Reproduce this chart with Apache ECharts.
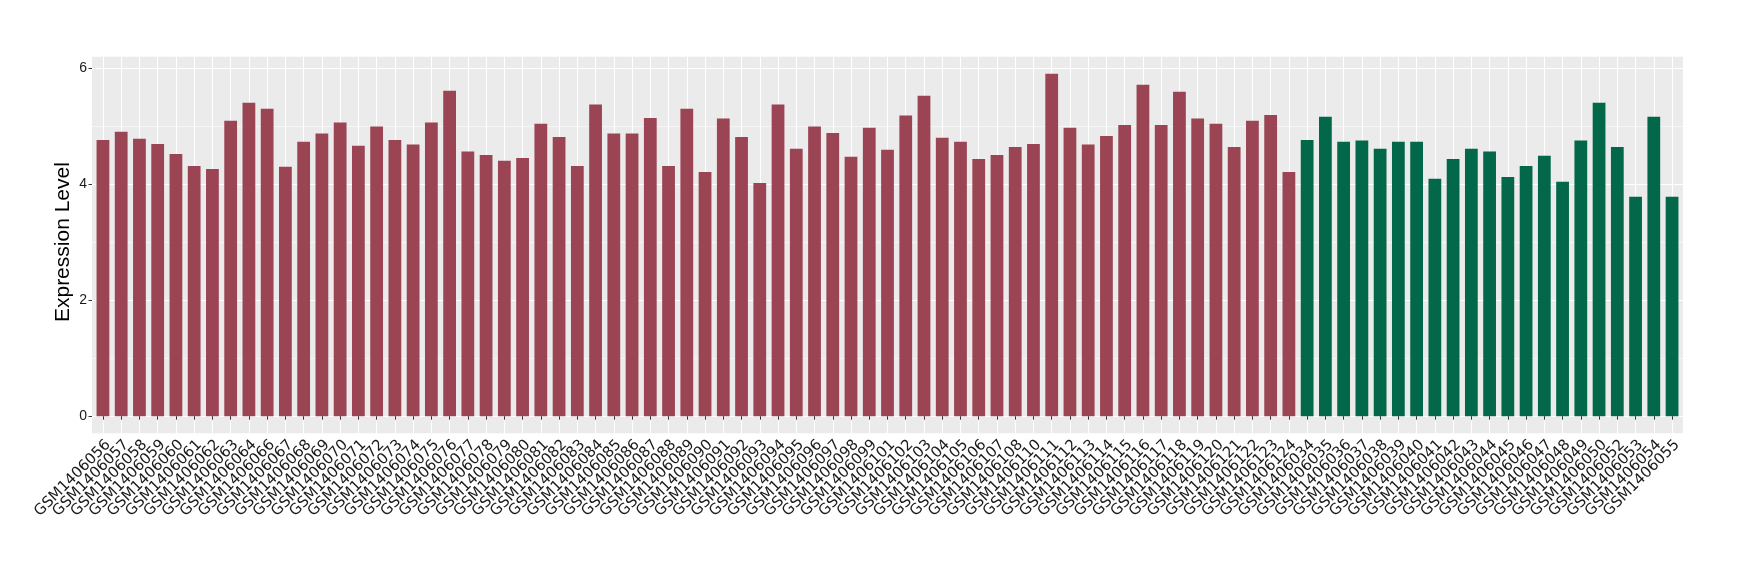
<!DOCTYPE html>
<html>
<head>
<meta charset="utf-8">
<script src="https://cdn.jsdelivr.net/npm/echarts@6/dist/echarts.min.js"></script>
<style>
html,body{margin:0;padding:0;background:#ffffff;}
#chart{width:1740px;height:580px;}
</style>
</head>
<body>
<div id="chart"></div>
<script>
// ---- data ----
const groupASamples = [
  "GSM1406056","GSM1406057","GSM1406058","GSM1406059","GSM1406060","GSM1406061","GSM1406062","GSM1406063","GSM1406064",
  "GSM1406066","GSM1406067","GSM1406068","GSM1406069","GSM1406070","GSM1406071","GSM1406072","GSM1406073","GSM1406074",
  "GSM1406075","GSM1406076","GSM1406077","GSM1406078","GSM1406079","GSM1406080","GSM1406081","GSM1406082","GSM1406083",
  "GSM1406084","GSM1406085","GSM1406086","GSM1406087","GSM1406088","GSM1406089","GSM1406090","GSM1406091","GSM1406092",
  "GSM1406093","GSM1406094","GSM1406095","GSM1406096","GSM1406097","GSM1406098","GSM1406099",
  "GSM1406101","GSM1406102","GSM1406103","GSM1406104","GSM1406105","GSM1406106","GSM1406107","GSM1406108",
  "GSM1406110","GSM1406111","GSM1406112","GSM1406113","GSM1406114","GSM1406115","GSM1406116","GSM1406117","GSM1406118",
  "GSM1406119","GSM1406120","GSM1406121","GSM1406122","GSM1406123","GSM1406124"
];
const groupAValues = [
  4.76,4.90,4.78,4.69,4.52,4.31,4.26,5.09,5.40,
  5.30,4.30,4.73,4.87,5.06,4.66,4.99,4.76,4.68,
  5.06,5.61,4.56,4.50,4.40,4.45,5.04,4.81,4.31,
  5.37,4.87,4.87,5.14,4.31,5.30,4.21,5.13,4.81,
  4.02,5.37,4.61,4.99,4.88,4.47,4.97,
  4.59,5.18,5.52,4.80,4.73,4.43,4.50,4.64,
  4.69,5.90,4.97,4.68,4.83,5.02,5.71,5.02,5.59,
  5.13,5.04,4.64,5.09,5.19,4.21
];
const groupBSamples = [
  "GSM1406034","GSM1406035","GSM1406036","GSM1406037","GSM1406038","GSM1406039","GSM1406040","GSM1406041",
  "GSM1406042","GSM1406043","GSM1406044","GSM1406045","GSM1406046","GSM1406047","GSM1406048","GSM1406049",
  "GSM1406050","GSM1406052","GSM1406053","GSM1406054","GSM1406055"
];
const groupBValues = [
  4.76,5.16,4.73,4.75,4.61,4.73,4.73,4.09,
  4.43,4.61,4.56,4.12,4.31,4.49,4.04,4.75,
  5.40,4.64,3.78,5.16,3.78
];
const yTickMin = 0;
const yTickMax = 6;
const yTickStep = 2;
const yAxisTitle = "Expression Level";

// ---- layout ----
const W = 1740, H = 580;
const panel = {left: 92, right: 57, top: 56.7, bottom: 146.7};
const categories = groupASamples.concat(groupBSamples);
const n = categories.length;
const nA = groupASamples.length;
const dataMax = Math.max(...groupAValues, ...groupBValues);
const pad = dataMax * 0.05;                 // ggplot-style 5% expansion
const panelW = W - panel.left - panel.right;
const panelH = H - panel.top - panel.bottom;
const unit = panelW / (n - 1 + 1.2);        // discrete expansion of 0.6 each side
const pxPerY = panelH / (dataMax + 2 * pad);

const gridBars = {
  left: panel.left + 0.6 * unit, right: panel.right + 0.6 * unit,
  top: panel.top, bottom: panel.bottom
};
const gridTicks = {
  left: panel.left, right: panel.right,
  top: panel.top + (dataMax + pad - yTickMax) * pxPerY,
  bottom: panel.bottom + (pad + yTickMin) * pxPerY
};

const seriesA = categories.map((c, i) => i < nA ? groupAValues[i] : '-');
const seriesB = categories.map((c, i) => i >= nA ? groupBValues[i - nA] : '-');

const chart = echarts.init(document.getElementById('chart'), null, {renderer: 'canvas'});
chart.setOption({
  animation: false,
  backgroundColor: '#ffffff',
  grid: [
    Object.assign({show: true, backgroundColor: '#EBEBEB', borderWidth: 0}, panel),
    Object.assign({show: false}, gridBars),
    Object.assign({show: false}, gridTicks)
  ],
  xAxis: [
    {gridIndex: 0, type: 'value', show: false},
    {
      gridIndex: 1, type: 'category', data: categories, boundaryGap: false,
      axisLine: {show: false},
      axisTick: {show: true, interval: 0, length: 3.5, lineStyle: {color: '#333333', width: 1}},
      axisLabel: {
        interval: 0, rotate: 45, margin: 4, verticalAlign: 'top',
        fontFamily: 'DejaVu Sans', fontSize: 15, color: '#1a1a1a'
      },
      splitLine: {show: true, interval: 0, lineStyle: {color: '#ffffff', width: 1.1}}
    },
    {gridIndex: 2, type: 'value', show: false}
  ],
  yAxis: [
    {gridIndex: 0, type: 'value', show: false},
    {gridIndex: 1, type: 'value', min: -pad, max: dataMax + pad, show: false, splitLine: {show: false}},
    {
      gridIndex: 2, type: 'value', min: yTickMin, max: yTickMax, interval: yTickStep,
      axisLine: {show: false},
      axisTick: {show: true, length: 3.5, lineStyle: {color: '#333333', width: 1}},
      axisLabel: {margin: 5, fontFamily: 'Liberation Sans', fontSize: 14, color: '#1a1a1a'},
      splitLine: {show: true, lineStyle: {color: '#ffffff', width: 1.1}},
      minorTick: {show: false, splitNumber: 2},
      minorSplitLine: {show: true, lineStyle: {color: '#ffffff', width: 0.55}},
      name: yAxisTitle, nameLocation: 'middle', nameGap: 18, nameMoveOverlap: false,
      nameTextStyle: {fontFamily: 'Liberation Sans', fontSize: 21, color: '#000000'}
    }
  ],
  series: [
    {
      name: 'group A', type: 'bar', xAxisIndex: 1, yAxisIndex: 1,
      data: seriesA, barWidth: unit * 0.7, barGap: '-100%',
      itemStyle: {color: '#9B4453'}
    },
    {
      name: 'group B', type: 'bar', xAxisIndex: 1, yAxisIndex: 1,
      data: seriesB, barWidth: unit * 0.7, barGap: '-100%',
      itemStyle: {color: '#03674A'}
    }
  ]
});
</script>
</body>
</html>
